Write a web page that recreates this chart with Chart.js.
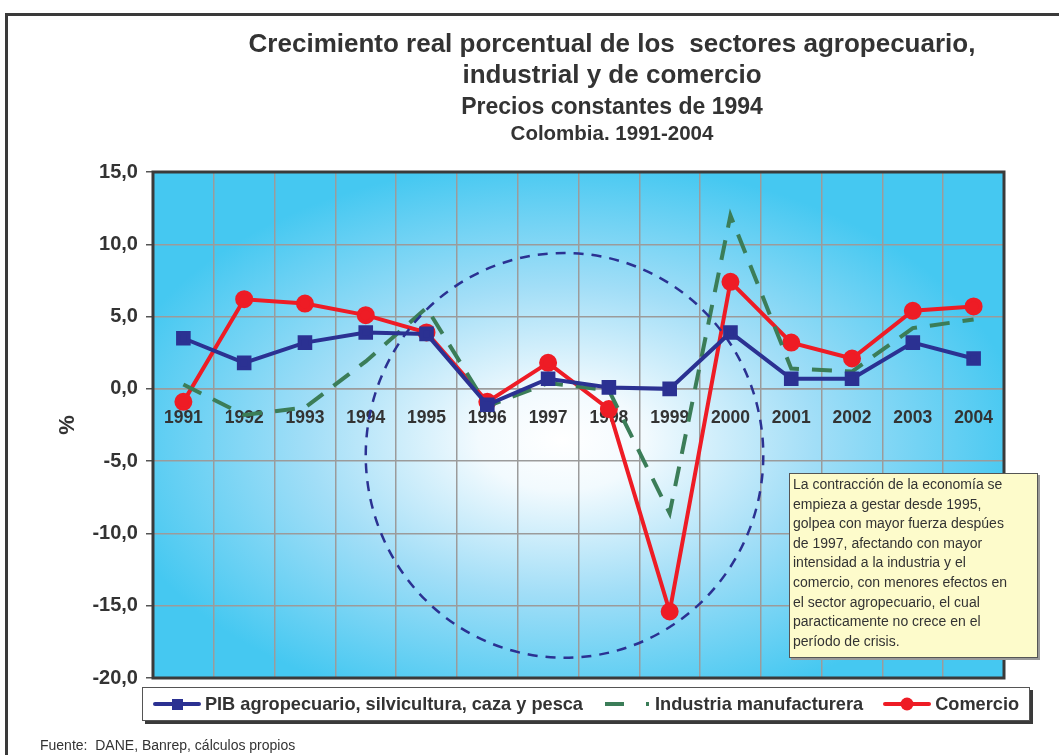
<!DOCTYPE html>
<html>
<head>
<meta charset="utf-8">
<script src="https://cdn.jsdelivr.net/npm/chart.js@4/dist/chart.umd.min.js"></script>
<style>
  html, body { margin: 0; padding: 0; background: #fff; }
  body { width: 1059px; height: 755px; position: relative; overflow: hidden; font-family: 'Liberation Sans', Arial, sans-serif; }
  #frame { position: absolute; left: 5px; top: 13px; width: 1100px; height: 800px; border-top: 3px solid #3a3a3a; border-left: 3px solid #3a3a3a; }
  #chart { position: absolute; left: 0; top: 0; }
  .titles { position: absolute; left: 212px; width: 800px; text-align: center; color: #333; font-weight: bold; }
  #t1 { top: 28px; font-size: 26px; line-height: 31px; }
  #t2 { top: 93px; font-size: 23px; line-height: 26px; }
  #t3 { top: 121px; font-size: 20.5px; line-height: 24px; }
  #note { position: absolute; left: 789px; top: 473px; width: 244px; height: 182px; background: #fdfbcb; border: 1px solid #555;
          box-shadow: 2px 2px 0 #9a9a9a; font-size: 14px; line-height: 19.6px; color: #333; padding: 1px 0 0 3px; }
  #legend { position: absolute; left: 142px; top: 687px; width: 886px; height: 32px; background: #fff; border: 1px solid #555;
            box-shadow: 3px 3px 0 #3a3a3a; display: flex; align-items: center; justify-content: center;
            font-size: 18.2px; font-weight: bold; color: #333; }
  #legend .item { display: flex; align-items: center; margin: 0 10px; white-space: nowrap; }
  #legend canvas { margin-right: 4px; }
  #source { position: absolute; left: 40px; top: 737px; font-size: 14px; color: #333; }
</style>
</head>
<body>
<div id="frame"></div>
<canvas id="chart" width="1059" height="755"></canvas>
<div class="titles" id="t1">Crecimiento real porcentual de los&nbsp; sectores agropecuario,<br>industrial y de comercio</div>
<div class="titles" id="t2">Precios constantes de 1994</div>
<div class="titles" id="t3">Colombia. 1991-2004</div>
<div id="note">La contracción de la economía se<br>empieza a gestar desde 1995,<br>golpea con mayor fuerza despúes<br>de 1997, afectando con mayor<br>intensidad a la industria y el<br>comercio, con menores efectos en<br>el sector agropecuario, el cual<br>paracticamente no crece en el<br>período de crisis.</div>
<div id="legend"></div>
<div id="source">Fuente:&nbsp; DANE, Banrep, cálculos propios</div>
<script>
document.addEventListener('DOMContentLoaded', function() {
    const FONT = "'Liberation Sans', Arial, sans-serif";

    // Data
    const years = ['1991', '1992', '1993', '1994', '1995', '1996', '1997', '1998', '1999', '2000', '2001', '2002', '2003', '2004'];
    const pibAgro = [3.5, 1.8, 3.2, 3.9, 3.8, -1.1, 0.7, 0.1, 0.0, 3.9, 0.7, 0.7, 3.2, 2.1];
    const industria = [0.3, -1.8, -1.3, 1.9, 5.6, -1.2, 0.4, -0.1, -8.6, 12.0, 1.4, 1.2, 4.2, 4.8];
    const comercio = [-0.9, 6.2, 5.9, 5.1, 3.9, -0.9, 1.8, -1.4, -15.4, 7.4, 3.2, 2.1, 5.4, 5.7];
    const seriesNames = ['PIB agropecuario, silvicultura, caza y pesca', 'Industria manufacturera', 'Comercio'];
    const yTicks = [15, 10, 5, 0, -5, -10, -15, -20];

    const BLUE = '#2b3192';
    const GREEN = '#3b7d58';
    const RED = '#ee1c25';

    // small canvases used as legend symbols (line + marker)
    function legendSymbol(color, marker, dash) {
        const c = document.createElement('canvas');
        c.width = 48; c.height = 16;
        const g = c.getContext('2d');
        g.strokeStyle = color;
        g.lineWidth = 4;
        g.lineCap = 'round';
        if (dash) { g.setLineDash(dash); g.lineCap = 'butt'; }
        g.beginPath(); g.moveTo(2, 8); g.lineTo(46, 8); g.stroke();
        g.fillStyle = color;
        if (marker === 'rect') g.fillRect(19, 3, 11, 11);
        if (marker === 'circle') { g.beginPath(); g.arc(24, 8, 6.5, 0, Math.PI * 2); g.fill(); }
        return c;
    }

    // background gradient inside the plot
    const backdrop = {
        id: 'backdrop',
        beforeDraw(chart) {
            const ctx = chart.ctx, a = chart.chartArea;
            const cx = a.left + (a.right - a.left) * 0.48, cy = a.top + (a.bottom - a.top) * 0.53;
            const rx = 460, ry = 280;
            ctx.save();
            ctx.beginPath(); ctx.rect(a.left, a.top, a.right - a.left, a.bottom - a.top); ctx.clip();
            ctx.translate(cx, cy); ctx.scale(rx / ry, 1);
            const grad = ctx.createRadialGradient(0, 0, 0, 0, 0, ry);
            grad.addColorStop(0, '#ffffff');
            grad.addColorStop(0.18, '#f2fafe');
            grad.addColorStop(0.55, '#a2def7');
            grad.addColorStop(1, '#45c8f1');
            ctx.fillStyle = grad;
            ctx.fillRect(-a.right, -a.bottom, a.right * 4, a.bottom * 4);
            ctx.restore();
        }
    };

    // dashed ellipse drawn in data units + plot frame
    const overlay = {
        id: 'overlay',
        afterDatasetsDraw(chart) {
            const ctx = chart.ctx, a = chart.chartArea;
            const xs = chart.scales.x, ys = chart.scales.y;
            const cx = xs.getPixelForValue(6.27), cy = ys.getPixelForValue(-4.6);
            const rx = xs.getPixelForValue(6.27 + 3.27) - cx;
            const ry = ys.getPixelForValue(-4.6 - 14.0) - cy;
            ctx.save();
            ctx.strokeStyle = BLUE;
            ctx.lineWidth = 2.5;
            ctx.setLineDash([10, 8]);
            ctx.beginPath();
            ctx.ellipse(cx, cy, rx, Math.abs(ry), 0, 0, Math.PI * 2);
            ctx.stroke();
            ctx.setLineDash([]);
            ctx.strokeStyle = '#3a3a3a';
            ctx.lineWidth = 3;
            ctx.strokeRect(a.left, a.top, a.right - a.left, a.bottom - a.top);
            ctx.restore();
        }
    };

    const ctx = document.getElementById('chart').getContext('2d');
    const chart = new Chart(ctx, {
        type: 'line',
        data: {
            labels: years,
            datasets: [{
                label: seriesNames[0],
                data: pibAgro,
                borderColor: BLUE,
                backgroundColor: BLUE,
                borderWidth: 4,
                pointStyle: 'rect',
                pointRadius: 7.5,
                pointHoverRadius: 7.5,
                tension: 0
            }, {
                label: seriesNames[1],
                data: industria,
                borderColor: GREEN,
                backgroundColor: GREEN,
                borderWidth: 4,
                borderDash: [20, 13],
                pointRadius: 0,
                tension: 0
            }, {
                label: seriesNames[2],
                data: comercio,
                borderColor: RED,
                backgroundColor: RED,
                borderWidth: 4,
                pointStyle: 'circle',
                pointRadius: 7,
                pointHoverRadius: 7,
                tension: 0
            }]
        },
        options: {
            responsive: false,
            animation: false,
            layout: { padding: { top: 172, left: 55, right: 55, bottom: 77 } },
            plugins: {
                title: { display: false },
                tooltip: { enabled: false },
                legend: { display: false }
            },
            scales: {
                x: {
                    position: { y: 0 },
                    offset: true,
                    grid: { color: '#9b9b9b', lineWidth: 1.5, drawTicks: false, offset: true },
                    border: { color: '#9b9b9b', width: 1.5 },
                    ticks: {
                        padding: 19,
                        color: '#333',
                        font: { family: FONT, size: 17.5, weight: 'bold' },
                        maxRotation: 0,
                        autoSkip: false
                    }
                },
                y: {
                    min: yTicks[yTicks.length - 1],
                    max: yTicks[0],
                    afterBuildTicks: function(scale) {
                        scale.ticks = yTicks.map(v => ({ value: v }));
                    },
                    grid: { color: '#9b9b9b', lineWidth: 1.5, tickLength: 7, tickColor: '#555' },
                    border: { display: false },
                    title: {
                        display: true,
                        text: '%',
                        color: '#333',
                        font: { family: FONT, size: 22, weight: 'bold' },
                        padding: { top: 0, bottom: 3 }
                    },
                    ticks: {
                        padding: 8,
                        color: '#333',
                        font: { family: FONT, size: 20, weight: 'bold' },
                        callback: function(value) {
                            return value.toFixed(1).replace('.', ',');
                        }
                    }
                }
            }
        },
        plugins: [backdrop, overlay]
    });

    // Legend built from the chart's datasets
    const legendEl = document.getElementById('legend');
    const symbols = [legendSymbol(BLUE, 'rect'), legendSymbol(GREEN, null, [19, 22]), legendSymbol(RED, 'circle')];
    chart.data.datasets.forEach((ds, i) => {
        const item = document.createElement('div');
        item.className = 'item';
        item.appendChild(symbols[i]);
        const span = document.createElement('span');
        span.textContent = ds.label;
        item.appendChild(span);
        legendEl.appendChild(item);
    });
});
</script>
</body>
</html>
